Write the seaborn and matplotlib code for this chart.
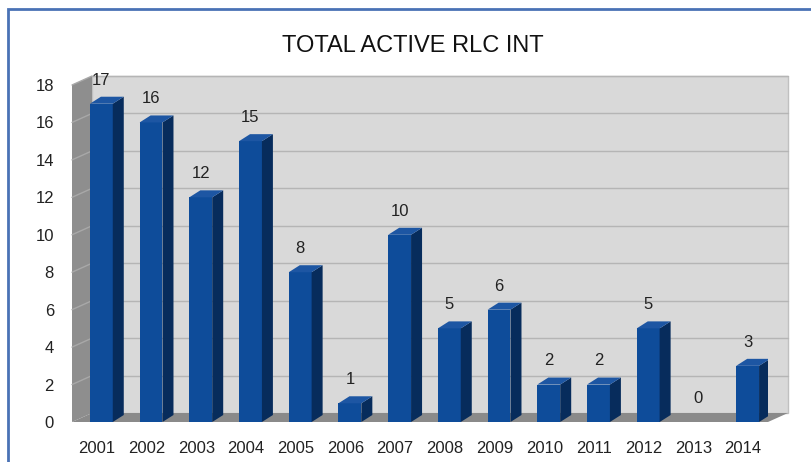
import matplotlib
matplotlib.use('Agg')
import matplotlib.pyplot as plt
import seaborn as sns
import pandas as pd
from matplotlib.patches import Polygon, Rectangle

# Data
years = ['2001', '2002', '2003', '2004', '2005', '2006', '2007',
         '2008', '2009', '2010', '2011', '2012', '2013', '2014']
active = [17, 16, 12, 15, 8, 1, 10, 5, 6, 2, 2, 5, 0, 3]
y_ticks = [0, 2, 4, 6, 8, 10, 12, 14, 16, 18]

df = pd.DataFrame({'year': years, 'active': active})

sns.set_style('white')
plt.rcParams['font.family'] = ['Liberation Sans', 'DejaVu Sans']

W, H = 812, 462
fig = plt.figure(figsize=(W / 100, H / 100), dpi=100)
fig.patch.set_facecolor('white')

# front plane of the 3d box
ax = fig.add_axes([72 / W, (H - 422) / H, 696 / W, 337 / H])
ax.set_facecolor('none')

# depth offset of the back wall (pixels -> axes fraction)
dx, dy = 20 / 696, 9 / 337

ax.add_patch(Rectangle((dx, dy), 1, 1, transform=ax.transAxes, facecolor='#d9d9d9',
                       edgecolor='#c0c0c0', lw=1, zorder=0, clip_on=False))
ax.add_patch(Polygon([(0, 0), (dx, dy), (dx, 1 + dy), (0, 1)], closed=True,
                     transform=ax.transAxes, facecolor='#8e8e8e', edgecolor='none',
                     zorder=0.5, clip_on=False))
ax.add_patch(Polygon([(0, 0), (1, 0), (1 + dx, dy), (dx, dy)], closed=True,
                     transform=ax.transAxes, facecolor='#8a8a8a', edgecolor='none',
                     zorder=0.5, clip_on=False))

# grid lines on back wall and side wall
for v in y_ticks[1:]:
    f = v / y_ticks[-1]
    ax.plot([dx, 1 + dx], [f + dy, f + dy], transform=ax.transAxes,
            color='#b5b5b5', lw=1, zorder=0.6, clip_on=False)
    ax.plot([0, dx], [f, f + dy], transform=ax.transAxes,
            color='#a8a8a8', lw=1, zorder=0.6, clip_on=False)

n_before = len(ax.patches)

# bars (front faces)
sns.barplot(data=df, x='year', y='active', color='#0e4c9a', width=0.46,
            saturation=1, ax=ax, zorder=3)

bars = ax.patches[n_before:]
bdx, bdy = 11 / 49.7, 7 / 18.72
for p in bars:
    p.set_x(p.get_x() + 0.09)
    p.set_edgecolor('none')
    x, w, h = p.get_x(), p.get_width(), p.get_height()
    if h <= 0:
        continue
    # side face
    ax.add_patch(Polygon([(x + w, 0), (x + w, h), (x + w + bdx, h + bdy), (x + w + bdx, bdy)],
                         closed=True, facecolor='#072c5c', edgecolor='none', zorder=3))
    # top face
    ax.add_patch(Polygon([(x, h), (x + w, h), (x + w + bdx, h + bdy), (x + bdx, h + bdy)],
                         closed=True, facecolor='#1d56a3', edgecolor='none', zorder=3))

# value labels
for i, v in enumerate(active):
    ax.annotate(str(v), (i + 0.09, v), xytext=(0, 17), textcoords='offset points',
                ha='center', va='center', fontsize=12, color='#222222', zorder=5)

ax.set_ylim(0, 18)
ax.set_xlim(-0.5, 13.5)
ax.set_yticks(y_ticks)
ax.set_xlabel('')
ax.set_ylabel('')
ax.tick_params(axis='both', length=0, labelsize=12, colors='#222222')
ax.tick_params(axis='y', pad=13)
ax.tick_params(axis='x', pad=14)
sns.despine(ax=ax, left=True, bottom=True)

fig.text(413 / W, 1 - 46 / H, 'TOTAL ACTIVE RLC INT', ha='center', va='center',
         fontsize=17, color='#111111')

# blue frame (only top and left visible)
fig.patches.append(Rectangle((8 / W, -0.2), 2, 1.2 - 9 / H, transform=fig.transFigure,
                             fill=False, edgecolor='#4a72b5', lw=2))

fig.savefig('out.png', dpi=100)
